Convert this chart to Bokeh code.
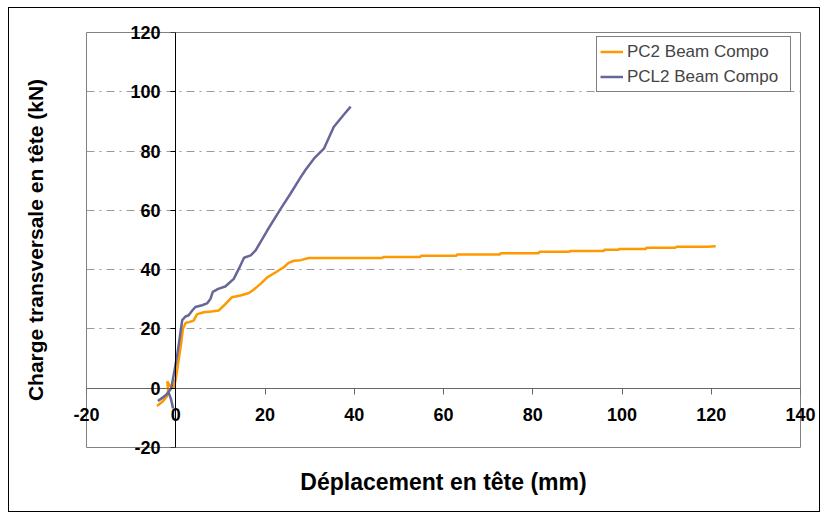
from bokeh.plotting import figure
from bokeh.models import FixedTicker, Range1d, Legend, LegendItem, LinearAxis
from bokeh.embed import file_html
from bokeh.resources import INLINE

# ---- data ----
x_ticks = [-20, 0, 20, 40, 60, 80, 100, 120, 140]
y_ticks = [-20, 0, 20, 40, 60, 80, 100, 120]
grid_ticks = [20, 40, 60, 80, 100]

pc2_x = [-4.2, -3.0, -2.0, -1.7, -1.9, -1.3, -0.5, 0.0, 0.6, 1.2, 1.6, 2.2, 3.0, 4.0,
         4.8, 6.3, 8.0, 9.6, 10.8, 12.6, 14.5, 16.4, 17.5, 19.0, 20.5, 22.5, 24.2,
         25.3, 26.5, 28.0, 29.8, 35.0, 40.0, 46.3, 46.5, 54.8, 55.0, 62.9, 63.1,
         72.6, 72.8, 81.3, 81.5, 88.2, 88.4, 95.9, 96.1, 99.2, 99.4, 105.3, 105.5,
         112.0, 112.2, 119.1, 121.0]
pc2_y = [-6.0, -4.6, -2.8, -0.8, 2.3, 0.8, 0.2, 3.0, 9.0, 15.0, 20.0, 22.0, 22.3, 22.8,
         25.0, 25.6, 25.9, 26.2, 27.9, 30.7, 31.3, 32.1, 33.3, 35.2, 37.4, 39.2, 40.8,
         42.3, 43.0, 43.2, 43.9, 43.9, 43.9, 43.9, 44.3, 44.3, 44.7, 44.7, 45.1,
         45.1, 45.5, 45.5, 46.0, 46.0, 46.3, 46.3, 46.7, 46.7, 47.0, 47.0, 47.4,
         47.4, 47.7, 47.7, 47.9]

pcl2_x = [-0.6, -1.1, -1.6, -2.5, -4.0, -3.0, -2.0, -1.0, -0.4, 0.2, 0.8, 1.45, 2.2,
          2.9, 3.7, 4.4, 5.9, 7.0, 7.8, 8.3, 9.5, 11.1, 13.0, 14.2, 15.3, 16.8, 17.9,
          20.5, 23.5, 25.7, 28.0, 29.1, 31.0, 33.2, 35.4, 37.5, 39.2]
pcl2_y = [-6.8, -3.5, -1.5, -2.6, -4.3, -3.3, -2.0, 0.0, 5.0, 10.0, 16.0, 23.0, 24.2,
          24.6, 26.2, 27.4, 28.0, 28.6, 30.2, 32.5, 33.5, 34.3, 36.9, 40.5, 44.0, 44.8,
          46.5, 53.2, 60.5, 65.6, 71.2, 73.7, 77.5, 80.8, 88.1, 92.0, 95.0]

series_names = ["PC2 Beam Compo", "PCL2 Beam Compo"]
x_title = "Déplacement en tête (mm)"
y_title = "Charge transversale en tête (kN)"

FONT = "Liberation Sans"

p = figure(width=812, height=505,
           x_range=Range1d(-20, 140), y_range=Range1d(-20, 120),
           output_backend="svg", toolbar_location=None,
           min_border_left=77, min_border_right=21,
           min_border_top=24, min_border_bottom=66)
p.styles = {"border": "1px solid black", "margin-left": "8px", "margin-top": "7px"}
p.background_fill_color = "white"
p.border_fill_color = "white"
p.outline_line_color = "#808080"
p.outline_line_width = 1

# grid
p.xgrid.visible = False
p.ygrid.ticker = FixedTicker(ticks=grid_ticks)
p.ygrid.grid_line_color = "#9a9a9a"
p.ygrid.grid_line_dash = "8 5 2 5"
p.ygrid.grid_line_width = 1

# side axes: only tick labels + titles (pulled inside next to the zero lines)
for ax in (p.xaxis[0], p.yaxis[0]):
    ax.axis_line_color = None
    ax.major_tick_line_color = None
    ax.minor_tick_line_color = None
    ax.major_tick_in = 0
    ax.major_tick_out = 0
    ax.major_label_text_font = FONT
    ax.major_label_text_font_style = "bold"
    ax.major_label_text_font_size = "18px"
    ax.major_label_text_color = "black"
    ax.axis_label_text_font = FONT
    ax.axis_label_text_font_style = "bold"
    ax.axis_label_text_color = "black"

p.xaxis[0].ticker = FixedTicker(ticks=x_ticks)
p.yaxis[0].ticker = FixedTicker(ticks=y_ticks)
p.xaxis[0].major_label_overrides = {t: str(t) for t in x_ticks}
p.yaxis[0].major_label_overrides = {t: str(t) for t in y_ticks}
p.xaxis[0].major_label_standoff = -40
p.yaxis[0].major_label_standoff = -74
p.xaxis[0].axis_label = x_title
p.yaxis[0].axis_label = y_title
p.xaxis[0].axis_label_text_font_size = "23px"
p.yaxis[0].axis_label_text_font_size = "21px"
p.xaxis[0].axis_label_standoff = 45
p.yaxis[0].axis_label_standoff = 80

# axis lines crossing at zero
xa0 = LinearAxis(fixed_location=0, ticker=FixedTicker(ticks=x_ticks),
                 axis_line_color="#666666", major_tick_line_color="#666666",
                 major_tick_in=0, major_tick_out=6, minor_tick_line_color=None,
                 major_label_text_color=None, major_label_text_font_size="1px")
ya0 = LinearAxis(fixed_location=0, ticker=FixedTicker(ticks=y_ticks),
                 axis_line_color="black", major_tick_line_color="black",
                 major_tick_in=0, major_tick_out=5, minor_tick_line_color=None,
                 major_label_text_color=None, major_label_text_font_size="1px")
p.add_layout(xa0, "below")
p.add_layout(ya0, "left")

# series
r1 = p.line(pc2_x, pc2_y, line_color="#FF9900", line_width=2.5)
r2 = p.line(pcl2_x, pcl2_y, line_color="#666699", line_width=2.5)

legend = Legend(items=[LegendItem(label=series_names[0], renderers=[r1]),
                       LegendItem(label=series_names[1], renderers=[r2])],
                location=(510, 355))
legend.margin = 0
legend.padding = 3
legend.spacing = 2
legend.glyph_width = 23
legend.glyph_height = 23
legend.label_standoff = 4
legend.label_width = 160
legend.label_text_font = FONT
legend.label_text_font_size = "17px"
legend.border_line_color = "black"
legend.border_line_width = 1
legend.background_fill_color = "white"
legend.background_fill_alpha = 1
p.add_layout(legend)

open("out.html", "w").write(file_html(p, INLINE))
